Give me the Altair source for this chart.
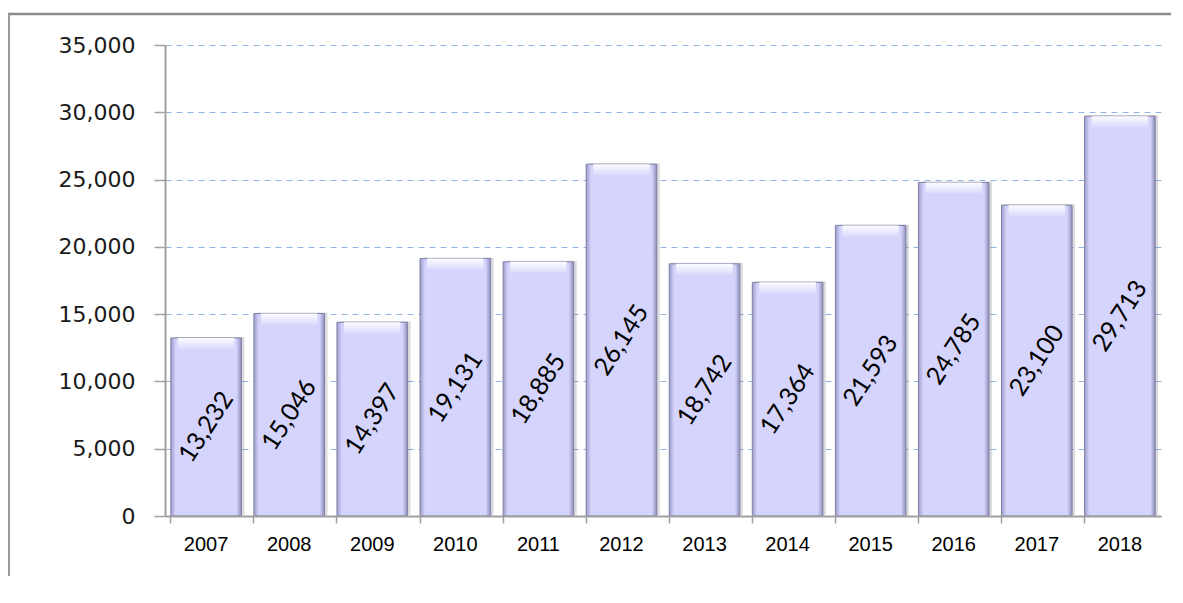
import altair as alt
import pandas as pd

years = ["2007", "2008", "2009", "2010", "2011", "2012",
         "2013", "2014", "2015", "2016", "2017", "2018"]
values = [13232, 15046, 14397, 19131, 18885, 26145,
          18742, 17364, 21593, 24785, 23100, 29713]
y_ticks = [0, 5000, 10000, 15000, 20000, 25000, 30000, 35000]

df = pd.DataFrame({"year": years, "value": values})

W, H = 996, 471

x_axis = alt.Axis(labelAngle=0, labelFont="Liberation Sans", labelFontSize=20,
                  labelColor="#000000", labelPadding=11, tickSize=7,
                  tickColor="#a0a0a0", tickWidth=1.5, domainColor="#a0a0a0",
                  domainWidth=2, bandPosition=0, grid=False, zindex=1)
y_axis = alt.Axis(values=y_ticks, labelExpr="format(datum.value, ',')",
                  labelFont="DejaVu Sans",
                  labelFontSize=22, labelColor="#1a1a1a", tickSize=11,
                  tickColor="#a0a0a0", tickWidth=1.5, domainColor="#a0a0a0",
                  domainWidth=2, labelPadding=19, gridColor="#8fb4e3",
                  gridDash=[6, 5], gridWidth=1, zindex=0)
y_scale = alt.Scale(domain=[0, 35000], nice=False)

x_enc = alt.X("year:N", sort=years, title=None,
              scale=alt.Scale(paddingInner=0.15, paddingOuter=0.07),
              axis=x_axis)
y_enc = alt.Y("value:Q", title=None, scale=y_scale, axis=y_axis)

base = alt.Chart(df)

shadow = base.mark_bar(color="#555566", opacity=0.2, xOffset=3, yOffset=-1).encode(
    x=x_enc, y=y_enc)

bar_fill = alt.LinearGradient(
    gradient="linear", x1=0, x2=1, y1=0, y2=0,
    stops=[alt.GradientStop(offset=0, color="#9c9ccc"),
           alt.GradientStop(offset=0.07, color="#d4d4fc"),
           alt.GradientStop(offset=0.93, color="#d4d4fc"),
           alt.GradientStop(offset=1, color="#8e8ebc")])

bars = base.mark_bar(fill=bar_fill, stroke="#8080a4", strokeWidth=1).encode(
    x=x_enc, y=y_enc)

bevel_fill = alt.LinearGradient(
    gradient="linear", x1=0, x2=0, y1=0, y2=1,
    stops=[alt.GradientStop(offset=0, color="#fdfdff"),
           alt.GradientStop(offset=1, color="#dadafd")])

bevel = base.mark_bar(fill=bevel_fill, y2Offset=11,
                      width=alt.RelativeBandSize(0.8)).encode(
    x=x_enc, y=y_enc, y2=alt.Y2("value"))

labels = base.transform_calculate(half="datum.value / 2").mark_text(
    angle=303, font="Lato", fontSize=25, color="#000000",
    align="center", baseline="middle").encode(
    x=x_enc,
    y=alt.Y("half:Q", title=None, scale=y_scale, axis=y_axis),
    text=alt.Text("value:Q", format=","))

frame_df = pd.DataFrame({"k": [0]})
top_border = alt.Chart(frame_df).mark_rule(color="#8c8c8c", strokeWidth=2.5).encode(
    x=alt.value(-157), x2=alt.value(1030), y=alt.value(-31))
left_border = alt.Chart(frame_df).mark_rule(color="#9a9a9a", strokeWidth=2).encode(
    x=alt.value(-156), y=alt.value(-31), y2=alt.value(560))

chart = alt.layer(shadow, bars, bevel, labels, top_border, left_border).properties(
    width=W, height=H,
    autosize=alt.AutoSizeParams(type="none"),
    padding={"left": 157, "top": 37, "right": 10, "bottom": 60},
    background="#ffffff",
).configure_view(stroke=None)

chart.save("out.html", embed_options={"renderer": "svg", "actions": False})
